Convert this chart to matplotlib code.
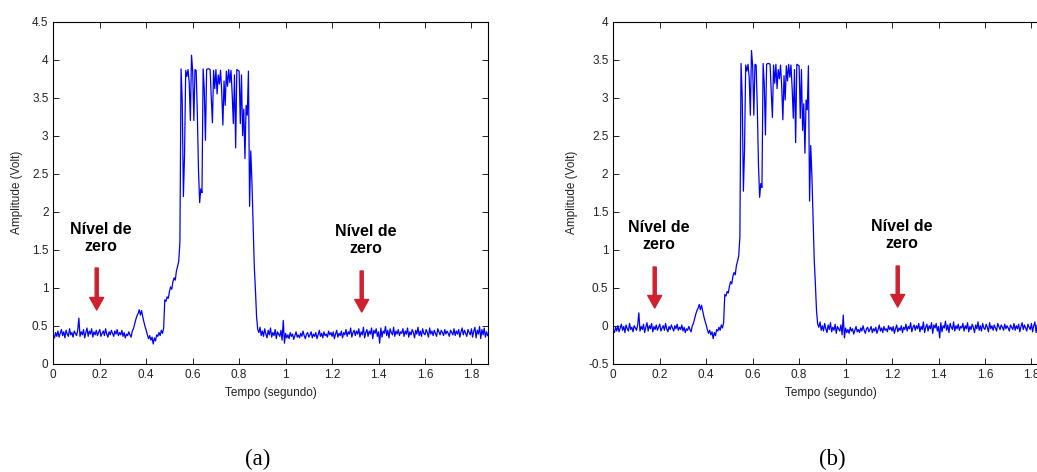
import numpy as np
import matplotlib
matplotlib.use('Agg')
import matplotlib.pyplot as plt
from matplotlib.ticker import FuncFormatter, MultipleLocator

plt.rcParams['font.family'] = ['Liberation Sans', 'DejaVu Sans']

# intervalo entre amostras (s)
dt = 0.005

# sinal original (a)
sinal_a = [
    0.38, 0.34, 0.41, 0.36, 0.43, 0.35, 0.40, 0.45, 0.37, 0.42, 0.34, 0.44, 0.39, 0.36, 0.46, 0.38, 0.41, 0.35, 0.43, 0.40,
    0.37, 0.44, 0.60, 0.36, 0.42, 0.38, 0.45, 0.34, 0.41, 0.47, 0.36, 0.43, 0.39, 0.46, 0.35, 0.42, 0.38, 0.44, 0.37, 0.41,
    0.45, 0.36, 0.40, 0.43, 0.37, 0.46, 0.39, 0.35, 0.42, 0.38, 0.44, 0.40, 0.36, 0.43, 0.39, 0.45, 0.37, 0.41, 0.38, 0.44,
    0.36, 0.41, 0.34, 0.39, 0.37, 0.42, 0.38, 0.35, 0.43, 0.46, 0.52, 0.58, 0.63, 0.66, 0.71, 0.64, 0.70, 0.62, 0.55, 0.49,
    0.44, 0.38, 0.33, 0.37, 0.31, 0.35, 0.26, 0.34, 0.30, 0.38, 0.36, 0.41, 0.37, 0.44, 0.40, 0.47, 0.84, 0.82, 0.88, 0.86,
    0.95, 1.01, 0.98, 1.08, 1.13, 1.10, 1.22, 1.28, 1.35, 1.60, 3.88, 3.45, 2.20, 2.75, 3.86, 3.78, 3.87, 3.70, 3.20, 4.06,
    3.85, 3.20, 3.87, 3.86, 3.30, 2.55, 2.12, 2.30, 2.25, 3.88, 3.60, 2.94, 3.87, 3.88, 3.88, 3.87, 3.50, 3.17, 3.86, 3.62,
    3.87, 3.55, 3.80, 3.68, 3.86, 3.58, 3.14, 3.72, 3.40, 3.85, 3.65, 3.87, 3.70, 3.86, 3.55, 3.16, 3.80, 2.84, 3.87, 3.86,
    3.85, 3.16, 3.80, 3.00, 3.35, 2.70, 3.40, 3.27, 3.85, 2.07, 2.80, 2.40, 1.85, 1.30, 0.98, 0.62, 0.45, 0.41, 0.48, 0.37,
    0.43, 0.36, 0.46, 0.39, 0.34, 0.44, 0.38, 0.47, 0.35, 0.41, 0.37, 0.45, 0.33, 0.42, 0.39, 0.36, 0.44, 0.31, 0.57, 0.27,
    0.40, 0.34, 0.38, 0.33, 0.41, 0.36, 0.39, 0.32, 0.37, 0.42, 0.35, 0.38, 0.34, 0.40, 0.36, 0.43, 0.37, 0.33, 0.39, 0.41,
    0.35, 0.38, 0.42, 0.34, 0.39, 0.36, 0.41, 0.33, 0.38, 0.44, 0.36, 0.40, 0.34, 0.42, 0.37, 0.39, 0.35, 0.43, 0.38, 0.41,
    0.36, 0.42, 0.33, 0.39, 0.44, 0.35, 0.40, 0.37, 0.43, 0.34, 0.41, 0.38, 0.45, 0.36, 0.42, 0.39, 0.47, 0.35, 0.41, 0.44,
    0.37, 0.43, 0.39, 0.46, 0.35, 0.42, 0.38, 0.48, 0.34, 0.41, 0.45, 0.36, 0.43, 0.39, 0.47, 0.33, 0.44, 0.40, 0.46, 0.36,
    0.42, 0.27, 0.47, 0.35, 0.43, 0.40, 0.49, 0.37, 0.44, 0.34, 0.46, 0.41, 0.38, 0.48, 0.36, 0.43, 0.39, 0.45, 0.37, 0.42,
    0.40, 0.46, 0.36, 0.43, 0.39, 0.47, 0.35, 0.42, 0.38, 0.45, 0.41, 0.34, 0.44, 0.39, 0.48, 0.37, 0.43, 0.36, 0.46, 0.40,
    0.38, 0.45, 0.41, 0.35, 0.47, 0.39, 0.43, 0.37, 0.44, 0.40, 0.36, 0.46, 0.42, 0.38, 0.44, 0.41, 0.37, 0.45, 0.39, 0.43,
    0.40, 0.36, 0.44, 0.41, 0.38, 0.46, 0.37, 0.43, 0.39, 0.45, 0.35, 0.42, 0.47, 0.38, 0.44, 0.40, 0.36, 0.45, 0.41, 0.38,
    0.46, 0.35, 0.43, 0.48, 0.34, 0.44, 0.39, 0.49, 0.33, 0.45, 0.38, 0.47, 0.35, 0.42, 0.37,
]

# sinal com nivel de zero corrigido (b)
sinal_b = [
    -0.05, -0.09, -0.02, -0.07, 0.00, -0.08, -0.03, 0.02, -0.06, -0.01, -0.09, 0.01, -0.04, -0.07, 0.03, -0.05, -0.02, -0.08, 0.00, -0.03,
    -0.06, 0.01, 0.17, -0.07, -0.01, -0.05, 0.02, -0.09, -0.02, 0.04, -0.07, 0.00, -0.04, 0.03, -0.08, -0.01, -0.05, 0.01, -0.06, -0.02,
    0.02, -0.07, -0.03, 0.00, -0.06, 0.03, -0.04, -0.08, -0.01, -0.05, 0.01, -0.03, -0.07, 0.00, -0.04, 0.02, -0.06, -0.02, -0.05, 0.01,
    -0.07, -0.02, -0.09, -0.04, -0.06, -0.01, -0.05, -0.08, 0.00, 0.03, 0.09, 0.15, 0.20, 0.23, 0.28, 0.21, 0.27, 0.19, 0.12, 0.06,
    0.01, -0.05, -0.10, -0.06, -0.12, -0.08, -0.17, -0.09, -0.13, -0.05, -0.07, -0.02, -0.06, 0.01, -0.03, 0.04, 0.41, 0.39, 0.45, 0.43,
    0.52, 0.58, 0.55, 0.65, 0.70, 0.67, 0.79, 0.85, 0.92, 1.17, 3.45, 3.02, 1.77, 2.32, 3.43, 3.35, 3.44, 3.27, 2.77, 3.62,
    3.42, 2.77, 3.44, 3.43, 2.87, 2.12, 1.69, 1.87, 1.82, 3.45, 3.17, 2.51, 3.44, 3.45, 3.45, 3.44, 3.07, 2.74, 3.43, 3.19,
    3.44, 3.12, 3.37, 3.25, 3.43, 3.15, 2.71, 3.29, 2.97, 3.42, 3.22, 3.44, 3.27, 3.43, 3.12, 2.73, 3.37, 2.41, 3.44, 3.43,
    3.42, 2.73, 3.37, 2.57, 2.92, 2.27, 2.97, 2.84, 3.42, 1.64, 2.37, 1.97, 1.42, 0.87, 0.55, 0.19, 0.02, -0.02, 0.05, -0.06,
    0.00, -0.07, 0.03, -0.04, -0.09, 0.01, -0.05, 0.04, -0.08, -0.02, -0.06, 0.02, -0.10, -0.01, -0.04, -0.07, 0.01, -0.12, 0.14, -0.16,
    -0.03, -0.09, -0.05, -0.10, -0.02, -0.07, -0.04, -0.11, -0.06, -0.01, -0.08, -0.05, -0.09, -0.03, -0.07, 0.00, -0.06, -0.10, -0.04, -0.02,
    -0.08, -0.05, -0.01, -0.09, -0.04, -0.07, -0.02, -0.10, -0.05, 0.01, -0.07, -0.03, -0.09, -0.01, -0.06, -0.04, -0.08, 0.00, -0.05, -0.02,
    -0.07, -0.01, -0.10, -0.04, 0.01, -0.08, -0.03, -0.06, 0.00, -0.09, -0.02, -0.05, 0.02, -0.07, -0.01, -0.04, 0.04, -0.08, -0.02, 0.01,
    -0.06, 0.00, -0.04, 0.03, -0.08, -0.01, -0.05, 0.05, -0.09, -0.02, 0.02, -0.07, 0.00, -0.04, 0.04, -0.10, 0.01, -0.03, 0.03, -0.07,
    -0.01, -0.16, 0.04, -0.08, 0.00, -0.03, 0.06, -0.06, 0.01, -0.09, 0.03, -0.02, -0.05, 0.05, -0.07, 0.00, -0.04, 0.02, -0.06, -0.01,
    -0.03, 0.03, -0.07, 0.00, -0.04, 0.04, -0.08, -0.01, -0.05, 0.02, -0.02, -0.09, 0.01, -0.04, 0.05, -0.06, 0.00, -0.07, 0.03, -0.03,
    -0.05, 0.02, -0.02, -0.08, 0.04, -0.04, 0.00, -0.06, 0.01, -0.03, -0.07, 0.03, -0.01, -0.05, 0.01, -0.02, -0.06, 0.02, -0.04, 0.00,
    -0.03, -0.07, 0.01, -0.02, -0.05, 0.03, -0.06, 0.00, -0.04, 0.02, -0.08, -0.01, 0.04, -0.05, 0.01, -0.03, -0.07, 0.02, -0.02, -0.05,
    0.03, -0.08, 0.00, 0.05, -0.09, 0.01, -0.04, 0.06, -0.10, 0.02, -0.05, 0.04, -0.08, -0.01, -0.06,
]

tempo = np.arange(len(sinal_a)) * dt

W, H = 1037, 472
vermelho = '#d0202e'

fig = plt.figure(figsize=(W / 100, H / 100), dpi=100)
ax_a = fig.add_axes([0.0514, 0.2294, 0.4189, 0.7246])
ax_b = fig.add_axes([0.5914, 0.2294, 0.4189, 0.7246])

fmt = FuncFormatter(lambda v, p: '%g' % round(v, 2))


def estilo(ax, sinal, ylim):
    ax.plot(tempo, sinal, color='#0000ff', linewidth=0.9)
    ax.set_xlim(0, 1.87)
    ax.set_ylim(*ylim)
    ax.xaxis.set_major_locator(MultipleLocator(0.2))
    ax.yaxis.set_major_locator(MultipleLocator(0.5))
    ax.xaxis.set_major_formatter(fmt)
    ax.yaxis.set_major_formatter(fmt)
    ax.tick_params(direction='in', length=4, width=0.7, top=True, right=True,
                   labelsize=8.5, colors='#222222')
    for s in ax.spines.values():
        s.set_linewidth(0.8)
    ax.text(0.5, -0.085, 'Tempo (segundo)', transform=ax.transAxes,
            ha='center', va='center', fontsize=8.5, color='#222222')


estilo(ax_a, sinal_a, (0, 4.5))
estilo(ax_b, sinal_b, (-0.5, 4))
ax_a.text(-0.084, 0.5, 'Amplitude (Volt)', transform=ax_a.transAxes, rotation=90,
          ha='center', va='center', fontsize=8.5, color='#222222')
ax_b.text(-0.096, 0.5, 'Amplitude (Volt)', transform=ax_b.transAxes, rotation=90,
          ha='center', va='center', fontsize=8.5, color='#222222')


def nivel_zero(ax, xt, yt, xs, y0, y1):
    fig.text(xt / W, 1 - yt / H, 'Nível de\nzero', ha='center', va='center',
             fontsize=11.5, fontweight='bold', linespacing=1.15)
    ax.annotate('', xy=(xs, H - y1), xytext=(xs, H - y0),
                xycoords='figure pixels', textcoords='figure pixels',
                annotation_clip=False,
                arrowprops=dict(facecolor=vermelho, edgecolor=vermelho, clip_on=False,
                                width=2.2, headwidth=10, headlength=9, shrink=0))


nivel_zero(ax_a, 101, 238, 96.7, 268, 310)
nivel_zero(ax_a, 366, 240, 361.7, 271, 312)
nivel_zero(ax_b, 659, 236, 654.7, 267, 308)
nivel_zero(ax_b, 902, 235, 897.7, 266, 307)

fig.text(258 / W, 1 - 459 / H, '(a)', ha='center', va='center',
         fontsize=16.5, family='Liberation Serif')
fig.text(832 / W, 1 - 459 / H, '(b)', ha='center', va='center',
         fontsize=16.5, family='Liberation Serif')

fig.savefig('out.png', dpi=100)
